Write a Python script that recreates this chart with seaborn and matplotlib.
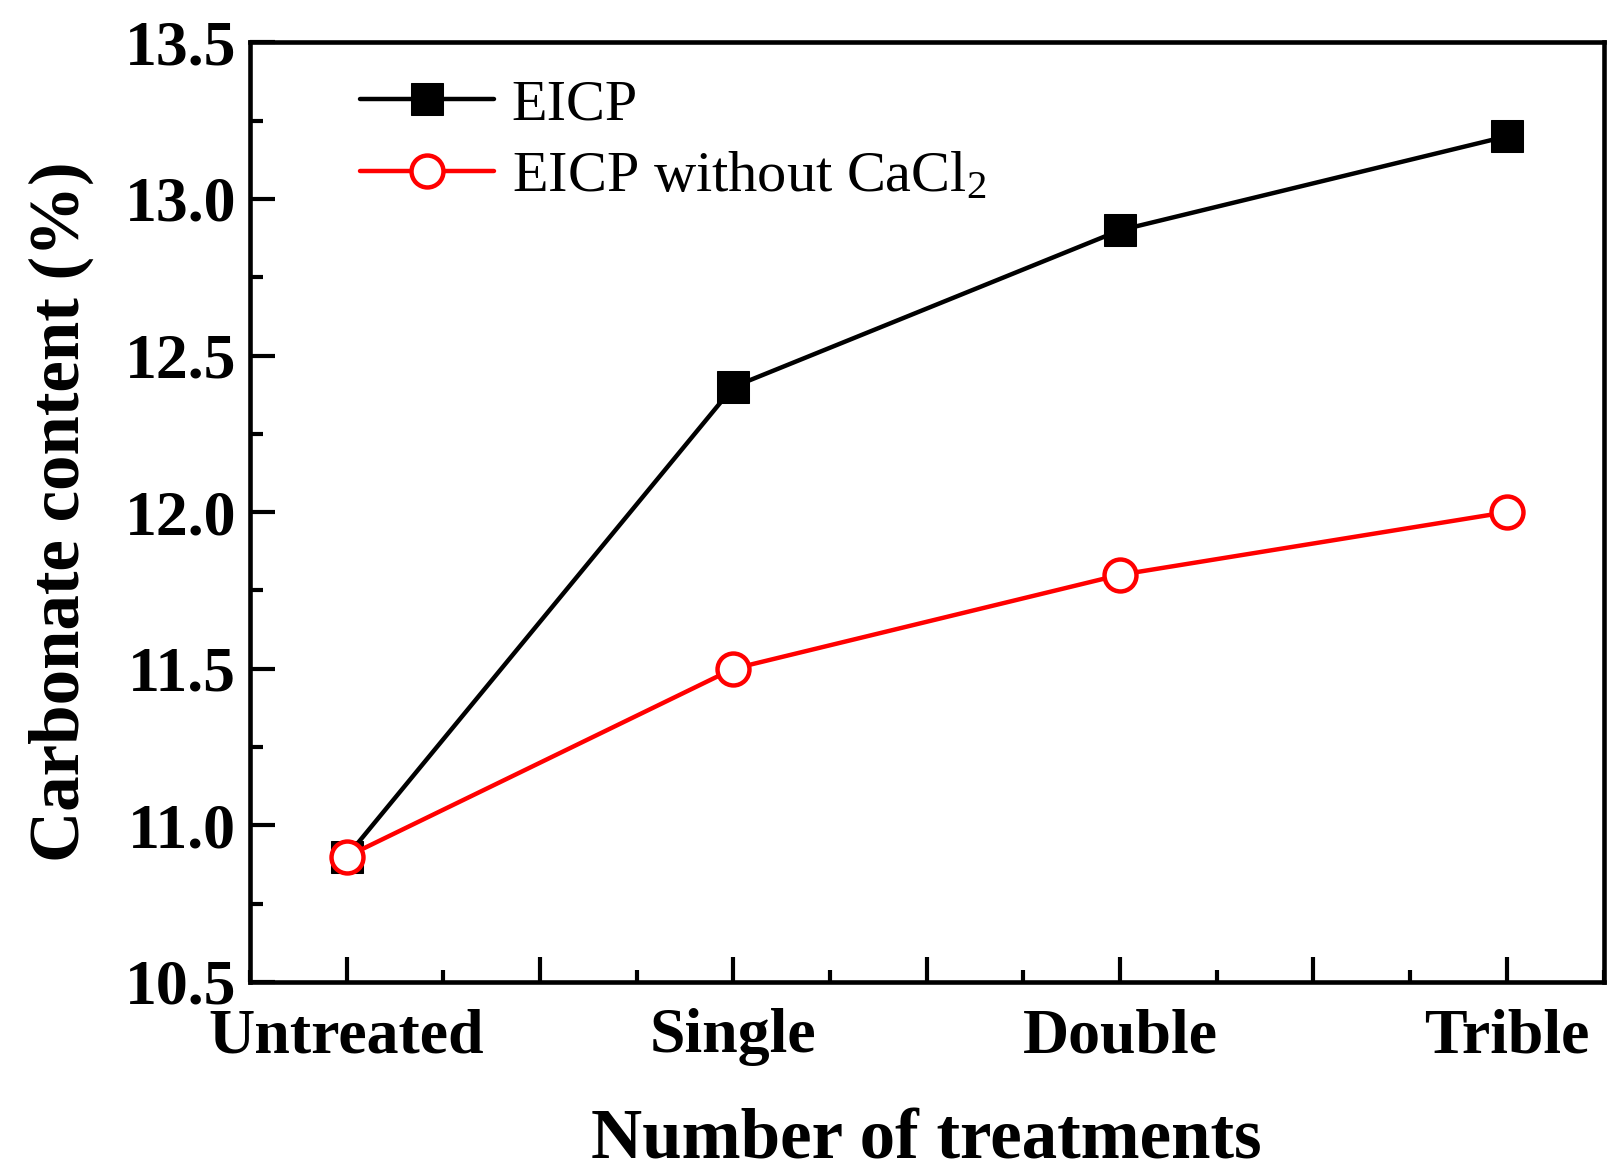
import numpy as np
import pandas as pd
import matplotlib
matplotlib.use("Agg")
import matplotlib.pyplot as plt
import seaborn as sns
from matplotlib.ticker import MultipleLocator

# ── Data ───────────────────────────────────────────────────────────────────
categories = ["Untreated", "Single", "Double", "Trible"]
eicp = [10.9, 12.4, 12.9, 13.2]
eicp_no_cacl2 = [10.9, 11.5, 11.8, 12.0]

sns.set_theme(style="ticks")
plt.rcParams["font.family"] = ["Liberation Serif", "DejaVu Serif"]
plt.rcParams["mathtext.fontset"] = "custom"
plt.rcParams["mathtext.rm"] = "Liberation Serif"
plt.rcParams["mathtext.it"] = "Liberation Serif:italic"
plt.rcParams["text.color"] = "black"
plt.rcParams["axes.labelcolor"] = "black"
plt.rcParams["xtick.color"] = "black"
plt.rcParams["ytick.color"] = "black"
plt.rcParams["axes.edgecolor"] = "black"

df = pd.DataFrame({
    "pos": np.arange(len(categories)),
    "EICP": eicp,
    "EICP without CaCl$_2$": eicp_no_cacl2,
})

fig = plt.figure(figsize=(16.23, 11.76), dpi=100)
ax = fig.add_axes([0.154, 0.165, 0.834, 0.799])

sns.lineplot(data=df, x="pos", y="EICP", ax=ax, color="black", lw=3.2,
             marker="s", markersize=23, markeredgecolor="black",
             markerfacecolor="black", label="EICP")
sns.lineplot(data=df, x="pos", y="EICP without CaCl$_2$", ax=ax, color="#ff0000",
             lw=3.2, marker="o", markersize=23, markeredgecolor="#ff0000",
             markerfacecolor="white", markeredgewidth=3.2, label="EICP without CaCl$_2$")

ax.set_xlim(-0.25, 3.25)
ax.set_ylim(10.5, 13.5)
ax.xaxis.set_major_locator(MultipleLocator(0.5))
ax.xaxis.set_minor_locator(MultipleLocator(0.25))
ax.yaxis.set_major_locator(MultipleLocator(0.5))
ax.yaxis.set_minor_locator(MultipleLocator(0.25))

def xfmt(v, _):
    i = int(round(v))
    if abs(v - i) < 1e-6 and 0 <= i < len(categories):
        return categories[i]
    return ""

ax.xaxis.set_major_formatter(plt.FuncFormatter(xfmt))
ax.yaxis.set_major_formatter(plt.FuncFormatter(lambda v, _: f"{v:.1f}"))

ax.tick_params(which="major", direction="in", length=18, width=3,
               labelsize=46, pad=10)
ax.tick_params(which="minor", direction="in", length=9, width=3)
ax.tick_params(axis="x", which="major", pad=19)
for lab in ax.get_xticklabels() + ax.get_yticklabels():
    lab.set_fontweight("bold")
for sp in ax.spines.values():
    sp.set_linewidth(3.3)
    sp.set_visible(True)

ax.set_xlabel("Number of treatments", fontsize=51, fontweight="bold", labelpad=30)
ax.set_ylabel("Carbonate content (%)", fontsize=51, fontweight="bold", labelpad=22)

leg = ax.legend(loc="upper left", bbox_to_anchor=(0.064, 0.986), frameon=False,
                fontsize=42, handlelength=2.3, handletextpad=0.3,
                labelspacing=0.32, borderaxespad=0)

plt.savefig("out.png", dpi=100)
plt.close()
